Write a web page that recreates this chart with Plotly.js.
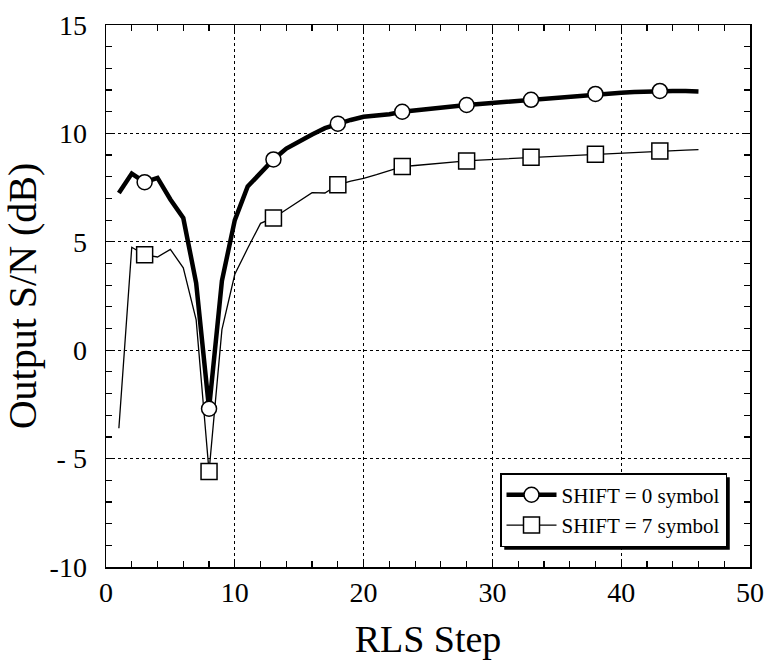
<!DOCTYPE html>
<html>
<head>
<meta charset="utf-8">
<script src="https://cdn.plot.ly/plotly-3.0.1.min.js"></script>
<style>html,body{margin:0;padding:0;background:#fff;}#chart{width:765px;height:661px;}</style>
</head>
<body>
<div id="chart"></div>
<script>
var steps = [1,2,3,4,5,6,7,8,9,10,11,12,13,14,15,16,17,18,19,20,21,22,23,24,25,26,27,28,29,30,31,32,33,34,35,36,37,38,39,40,41,42,43,44,45,46];
var shift0 = [7.25,8.15,7.75,7.95,6.95,6.1,3.1,-2.7,3.2,6.0,7.55,8.2,8.8,9.3,9.65,9.95,10.24,10.45,10.62,10.77,10.82,10.88,11.0,11.07,11.13,11.19,11.25,11.31,11.36,11.41,11.46,11.5,11.55,11.6,11.66,11.72,11.77,11.82,11.85,11.88,11.91,11.94,11.96,11.96,11.95,11.93];
var shift7 = [-3.6,4.75,4.4,4.3,4.65,3.8,1.4,-5.6,0.95,3.5,4.7,5.85,6.1,6.5,6.9,7.27,7.25,7.63,7.8,7.93,8.1,8.3,8.47,8.52,8.58,8.63,8.68,8.73,8.77,8.8,8.84,8.87,8.9,8.93,8.96,8.99,9.02,9.04,9.07,9.1,9.13,9.16,9.19,9.21,9.23,9.25];
var markerSteps = [3,8,13,18,23,28,33,38,43];
var seriesNames = ["SHIFT = 0 symbol","SHIFT = 7 symbol"];
var yTickVals = [-10,-5,0,5,10,15];
var yTickText = ["-10","- 5","0","5","10","15"];
var xTickVals = [0,10,20,30,40,50];
var xTickText = ["0","10","20","30","40","50"];
var xTitle = "RLS Step";
var yTitle = "Output S/N (dB)";

function pick(arr){ return steps.reduce(function(acc, x, i){ if(markerSteps.indexOf(x) >= 0) acc.push(arr[i]); return acc; }, []); }

var FONT = "'Liberation Serif', 'Times New Roman', serif";
var circleMarker = {symbol: 'circle', size: 15, color: '#fff', line: {color: '#000', width: 1.5}};
var squareMarker = {symbol: 'square', size: 16, color: '#fff', line: {color: '#000', width: 1.5}};
var traces = [
  {x: steps, y: shift0, type: 'scatter', mode: 'lines', showlegend: false, hoverinfo: 'skip',
   line: {color: '#000', width: 4.5}},
  {x: steps, y: shift7, type: 'scatter', mode: 'lines', showlegend: false, hoverinfo: 'skip',
   line: {color: '#000', width: 1.3}},
  {x: markerSteps, y: pick(shift0), type: 'scatter', mode: 'markers', showlegend: false, marker: circleMarker},
  {x: markerSteps, y: pick(shift7), type: 'scatter', mode: 'markers', showlegend: false, marker: squareMarker},
  {x: [null], y: [null], name: seriesNames[0], type: 'scatter', mode: 'lines+markers',
   line: {color: '#000', width: 4.5}, marker: circleMarker},
  {x: [null], y: [null], name: seriesNames[1], type: 'scatter', mode: 'lines+markers',
   line: {color: '#000', width: 1.3}, marker: squareMarker}
];

var axisCommon = {
  showline: true, linecolor: '#000', linewidth: 1.5, mirror: 'allticks',
  ticks: 'inside', ticklen: 7, tickwidth: 1.2, tickcolor: '#000',
  showgrid: true, gridcolor: '#000', gridwidth: 1.3, griddash: 'dot',
  zeroline: false, tickfont: {family: FONT, size: 28, color: '#000'}
};

var layout = {
  width: 765, height: 661,
  margin: {l: 106, r: 15, t: 25, b: 93.5, pad: 0},
  paper_bgcolor: '#fff', plot_bgcolor: '#fff',
  font: {family: FONT, color: '#000'},
  showlegend: true,
  xaxis: Object.assign({}, axisCommon, {
    range: [0, 50], tickmode: 'array', tickvals: xTickVals, ticktext: xTickText,
    ticklabelstandoff: 0,
    minor: {dtick: 2, ticks: 'inside', ticklen: 6, tickwidth: 1.2, tickcolor: '#000', showgrid: false},
    title: {text: xTitle, font: {family: FONT, size: 38, color: '#000'}, standoff: 18}
  }),
  yaxis: Object.assign({}, axisCommon, {
    range: [-10, 15], tickmode: 'array', tickvals: yTickVals, ticktext: yTickText,
    ticklabelstandoff: 12,
    minor: {dtick: 1, ticks: 'inside', ticklen: 6, tickwidth: 1.2, tickcolor: '#000', showgrid: false},
    title: {text: yTitle, font: {family: FONT, size: 40, color: '#000'}, standoff: 13}
  }),
  legend: {
    x: 0.9643, y: 0.105, xanchor: 'right', yanchor: 'middle',
    bgcolor: '#fff', bordercolor: '#000', borderwidth: 1.5,
    font: {family: FONT, size: 21, color: '#000'},
    itemwidth: 50, tracegroupgap: 0
  }
};

Plotly.newPlot('chart', traces, layout, {displayModeBar: false, staticPlot: true}).then(function(gd){
  var bg = gd.querySelector('.legend .bg');
  if(!bg) return;
  var r = bg.getBoundingClientRect();
  var c = gd.getBoundingClientRect();
  var sz = gd._fullLayout._size;
  var off = 3.5;
  function px2x(p){ return (p - c.left - sz.l) / sz.w; }
  function px2y(p){ return 1 - (p - c.top - sz.t) / sz.h; }
  Plotly.relayout(gd, {shapes: [{
    type: 'rect', xref: 'paper', yref: 'paper', layer: 'above',
    x0: px2x(r.left + off), x1: px2x(r.right + off),
    y0: px2y(r.bottom + off), y1: px2y(r.top + off),
    fillcolor: '#000', line: {width: 0}
  }]});
});
</script>
</body>
</html>
